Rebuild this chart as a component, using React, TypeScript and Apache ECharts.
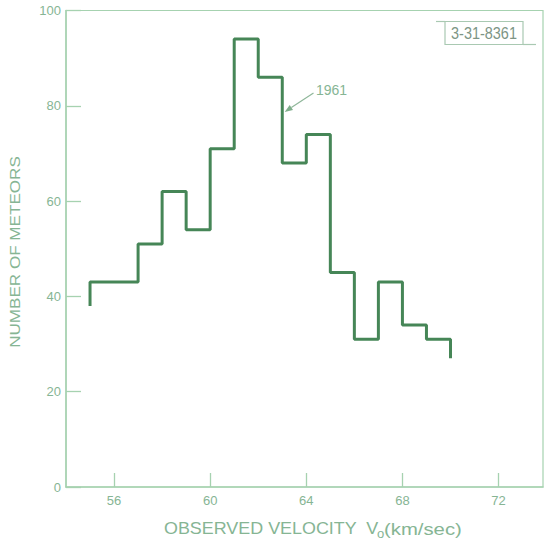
import React, { useEffect, useRef } from "react";
import * as echarts from "echarts";

// Histogram of observed meteor velocities (1961)
const binStarts = [55, 56, 57, 58, 59, 60, 61, 62, 63, 64, 65, 66, 67, 68, 69];
const counts = [43, 43, 51, 62, 54, 71, 94, 86, 68, 74, 45, 31, 43, 34, 31];
const startValue = 38; // stub of line at left end
const endEdge = 70;
const endValue = 27; // stub of line at right end
const xTickValues = [56, 60, 64, 68, 72];
const yTickValues = [0, 20, 40, 60, 80, 100];
const seriesLabel = "1961";
const stampText = "3-31-8361";

const AXIS = "#a6d2b0";
const TEXT = "#86b594";
const LINE = "#468657";

export default function App() {
  const ref = useRef<HTMLDivElement>(null);
  useEffect(() => {
    if (!ref.current) return;
    const chart = echarts.init(ref.current, undefined, { renderer: "svg" });
    const data: number[][] = [[binStarts[0], startValue]];
    binStarts.forEach((x, i) => data.push([x, counts[i]]));
    data.push([endEdge, endValue]);

    const font = "Liberation Sans";
    chart.setOption({
      animation: false,
      backgroundColor: "#ffffff",
      grid: {
        left: 66,
        top: 10.5,
        width: 477,
        height: 476.5,
        show: true,
        borderColor: AXIS,
        borderWidth: 1.2,
        containLabel: false,
      },
      xAxis: {
        type: "value",
        min: 54,
        max: 73.85,
        interval: 2,
        splitLine: { show: false },
        axisLine: { show: true, lineStyle: { color: AXIS, width: 1.5 } },
        axisTick: {
          show: true,
          inside: true,
          length: 14,
          customValues: xTickValues,
          lineStyle: { color: AXIS, width: 1.3 },
        },
        axisLabel: {
          customValues: xTickValues,
          color: TEXT,
          fontFamily: font,
          fontSize: 13,
          margin: 7,
        },
      },
      yAxis: {
        type: "value",
        min: 0,
        max: 100,
        interval: 20,
        splitLine: { show: false },
        axisLine: { show: true, lineStyle: { color: AXIS, width: 1.5 } },
        axisTick: {
          show: true,
          inside: true,
          length: 15,
          customValues: yTickValues,
          lineStyle: { color: AXIS, width: 1.3 },
        },
        axisLabel: {
          color: TEXT,
          fontFamily: font,
          fontSize: 13,
          margin: 5,
        },
      },
      series: [
        {
          type: "line",
          step: "end",
          data,
          symbol: "none",
          lineStyle: { color: LINE, width: 3 },
        },
      ],
    });

    const tip = chart.convertToPixel({ gridIndex: 0 }, [63.1, 78.7]) as number[];
    const tail = chart.convertToPixel({ gridIndex: 0 }, [64.3, 82.7]) as number[];
    const lab = chart.convertToPixel({ gridIndex: 0 }, [64.4, 83.4]) as number[];
    const dx = tip[0] - tail[0];
    const dy = tip[1] - tail[1];
    const len = Math.hypot(dx, dy);
    const ux = dx / len;
    const uy = dy / len;
    const ah = 8;
    const aw = 3;
    const base = [tip[0] - ux * ah, tip[1] - uy * ah];

    chart.setOption({
      graphic: [
        {
          type: "line",
          shape: { x1: tail[0], y1: tail[1], x2: base[0], y2: base[1] },
          style: { stroke: "#8fb79a", lineWidth: 1.2 },
        },
        {
          type: "polygon",
          shape: {
            points: [
              tip,
              [base[0] - uy * aw, base[1] + ux * aw],
              [base[0] + uy * aw, base[1] - ux * aw],
            ],
          },
          style: { fill: "#7fae8b" },
        },
        {
          type: "text",
          x: lab[0],
          y: lab[1],
          style: {
            text: seriesLabel,
            fill: TEXT,
            font: `14px ${font}`,
            textAlign: "left",
            textVerticalAlign: "middle",
          },
        },
        // stamp
        {
          type: "rect",
          shape: { x: 445, y: 21.5, width: 78, height: 23 },
          style: { fill: "none", stroke: "#a9c9b2", lineWidth: 1.2 },
        },
        {
          type: "line",
          shape: { x1: 436, y1: 21.5, x2: 445, y2: 21.5 },
          style: { stroke: "#a9c9b2", lineWidth: 1.2 },
        },
        {
          type: "line",
          shape: { x1: 523, y1: 44.5, x2: 536, y2: 44.5 },
          style: { stroke: "#a9c9b2", lineWidth: 1.2 },
        },
        {
          type: "text",
          x: 484,
          y: 33,
          scaleX: 0.85,
          style: {
            text: stampText,
            fill: "#7d9585",
            font: `17px ${font}`,
            textAlign: "center",
            textVerticalAlign: "middle",
          },
        },
        // x axis title
        {
          type: "text",
          x: 164,
          y: 529,
          scaleX: 1.12,
          style: {
            text: "OBSERVED VELOCITY  V",
            fill: TEXT,
            font: `16px ${font}`,
            textAlign: "left",
            textVerticalAlign: "middle",
          },
        },
        {
          type: "text",
          x: 380.5,
          y: 533,
          style: {
            text: "o",
            fill: TEXT,
            font: `13px ${font}`,
            textAlign: "center",
            textVerticalAlign: "middle",
          },
        },
        {
          type: "text",
          x: 384,
          y: 529,
          scaleX: 1.27,
          style: {
            text: "(km/sec)",
            fill: TEXT,
            font: `16px ${font}`,
            textAlign: "left",
            textVerticalAlign: "middle",
          },
        },
        // y axis title
        {
          type: "text",
          x: 14.6,
          y: 252,
          rotation: Math.PI / 2,
          scaleX: 1.22,
          style: {
            text: "NUMBER OF METEORS",
            fill: TEXT,
            font: `14px ${font}`,
            textAlign: "center",
            textVerticalAlign: "middle",
          },
        },
      ],
    });
    return () => chart.dispose();
  }, []);
  return (
    <div
      ref={ref}
      style={{ position: "fixed", left: 0, top: 0, width: 545, height: 540 }}
    />
  );
}
